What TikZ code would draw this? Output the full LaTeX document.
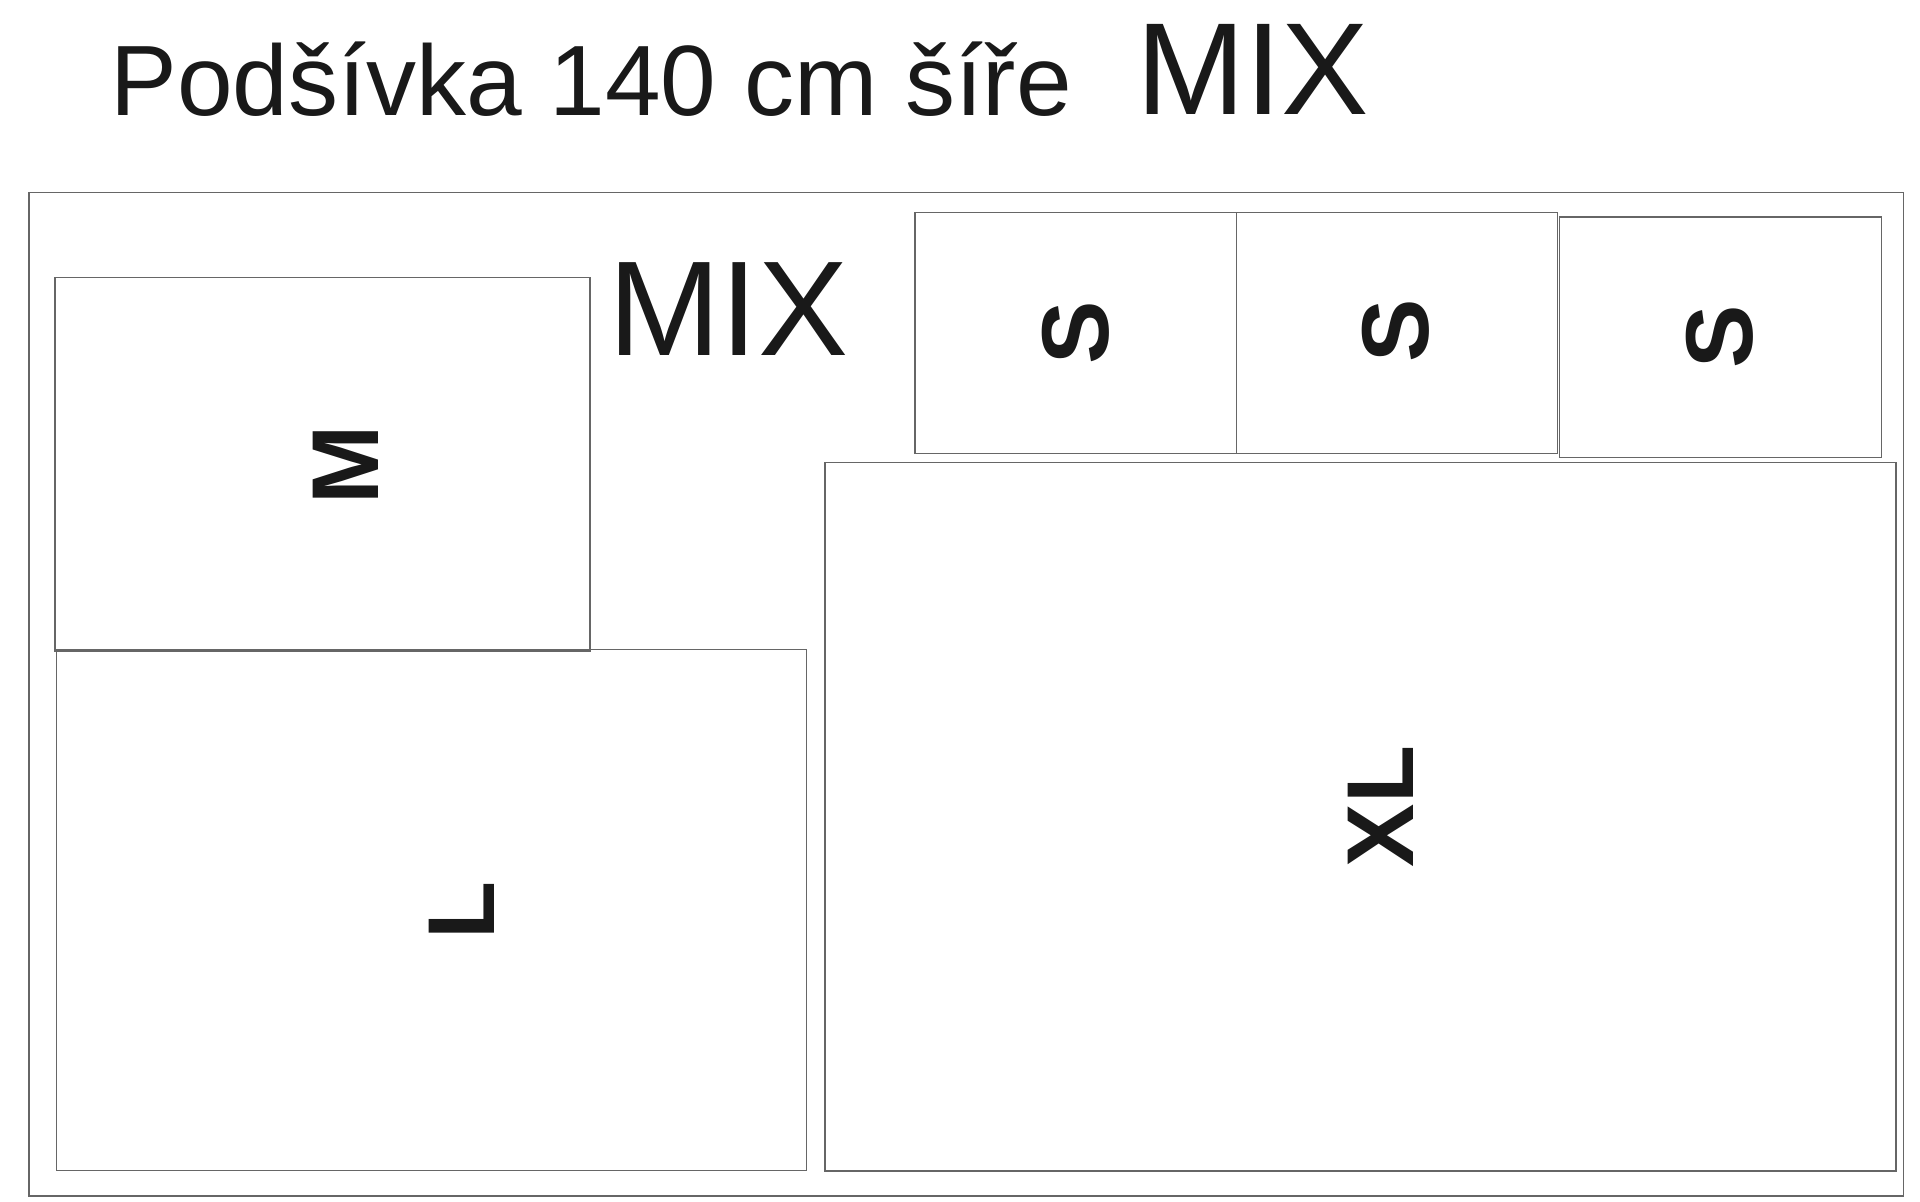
\documentclass[tikz,border=0pt]{standalone}
\usepackage{fontspec}
\setmainfont{Liberation Sans}
\begin{document}
\begin{tikzpicture}[x=0.5pt,y=-0.5pt,
  piece/.style={draw=black!60, line width=0.75pt},
  size/.style={font=\fontsize{47.5}{47.5}\selectfont\bfseries, text=black!90, rotate=90, inner sep=0pt},
  heading/.style={anchor=base west, inner sep=0pt, text=black!90}]
\useasboundingbox (0,0) rectangle (1920,1201);

\node[heading, font=\fontsize{50}{50}\selectfont] (title) at (110,115) {Podšívka 140 cm šíře};
\node[heading, font=\fontsize{65.5}{65.5}\selectfont] (mixtop) at (1136,114) {MIX};

\draw[piece] (29,192.7) rectangle (1903.3,1196);

\draw[piece] (55,277.7) rectangle (590,651);
\draw[piece] (56.3,649.7) rectangle (806.7,1170.6);
\draw[piece] (825,462.7) rectangle (1896,1171);
\draw[piece] (915,212.7) rectangle (1236.7,453.3);
\draw[piece] (1236.7,212.7) rectangle (1557.7,453.3);
\draw[piece] (1559.7,217) rectangle (1881.7,457.7);

\node[heading, font=\fontsize{67.5}{67.5}\selectfont] (mix) at (608,355) {MIX};

\node[size] (M) at (346,465) {M};
\node[size] (L) at (462,910) {L};
\node[size] (XL) at (1381,806.5) {XL};
\node[size] (S1) at (1075.8,333) {S};
\node[size] (S2) at (1396,331) {S};
\node[size] (S3) at (1720,337) {S};

\end{tikzpicture}
\end{document}
